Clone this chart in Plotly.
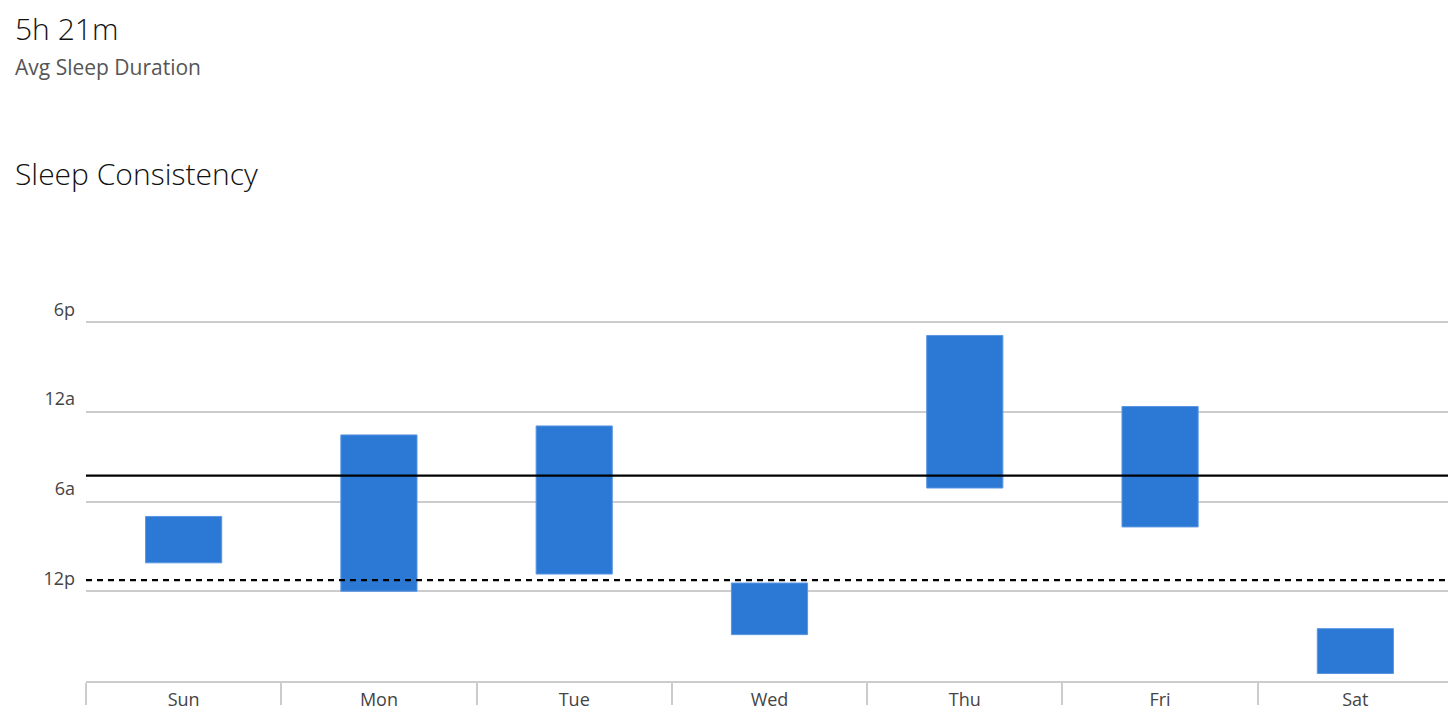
import plotly.graph_objects as go

# Data: sleep windows, expressed as hours after 6pm of the previous evening
days = ["Sun", "Mon", "Tue", "Wed", "Thu", "Fri", "Sat"]
bedtime_h = [13.0, 7.55, 6.95, 17.45, 0.9, 5.65, 20.5]
wake_h = [16.1, 18.0, 16.85, 20.9, 11.1, 13.7, 23.5]
avg_bedtime_h = 10.27
avg_wake_h = 17.25

y_tickvals = [0, 6, 12, 18]
y_ticktext = ["6p", "12a", "6a", "12p"]

headline = "5h 21m"
subhead = "Avg Sleep Duration"
chart_title = "Sleep Consistency"

duration = [w - b for b, w in zip(bedtime_h, wake_h)]

FONT = "Open Sans"
# the page body adds an 8px offset, so the figure is sized to fit the window
W, H = 1448, 712
ML, MR, MT, MB = 78, 3, 311, 39
PW, PH = W - ML - MR, H - MT - MB


def px_x(x):
    return (x - ML) / PW


def px_y(y):
    return (H - MB - y) / PH


fig = go.Figure()
fig.add_trace(go.Bar(
    x=days, y=duration, base=bedtime_h,
    width=0.39,
    marker=dict(color="#2C78D5", line=dict(color="#5A97E2", width=1)),
    hoverinfo="skip", showlegend=False,
))

fig.add_shape(type="line", xref="paper", yref="y", x0=0, x1=1,
              y0=avg_bedtime_h, y1=avg_bedtime_h,
              line=dict(color="#000000", width=2.2), layer="above")
fig.add_shape(type="line", xref="paper", yref="y", x0=0, x1=1,
              y0=avg_wake_h, y1=avg_wake_h,
              line=dict(color="#000000", width=2.2, dash="6px,5px"), layer="above")

fig.add_annotation(text=headline, xref="paper", yref="paper",
                   x=px_x(5), y=px_y(20), xanchor="left", yanchor="middle",
                   showarrow=False,
                   font=dict(family=FONT, size=30, color="#111111", weight=300))
fig.add_annotation(text=subhead, xref="paper", yref="paper",
                   x=px_x(5), y=px_y(59), xanchor="left", yanchor="middle",
                   showarrow=False,
                   font=dict(family=FONT, size=21, color="#555555"))
fig.add_annotation(text=chart_title, xref="paper", yref="paper",
                   x=px_x(5), y=px_y(165), xanchor="left", yanchor="middle",
                   showarrow=False,
                   font=dict(family=FONT, size=30, color="#111111", weight=300))

fig.update_layout(
    width=W, height=H,
    margin=dict(l=ML, r=MR, t=MT, b=MB, pad=0),
    paper_bgcolor="white", plot_bgcolor="white",
    font=dict(family=FONT, size=18, color="#444444"),
    bargap=0.6,
)
fig.update_xaxes(
    type="category", range=[-0.5, 6.5],
    showgrid=False, showline=True, linecolor="#CCCCCC", linewidth=1.5,
    ticks="outside", tickson="boundaries", ticklen=22, tickcolor="#CCCCCC",
    tickwidth=1.5, ticklabelstandoff=2,
    tickfont=dict(family=FONT, size=18, color="#444444"),
    zeroline=False, fixedrange=True,
)
fig.update_yaxes(
    range=[24, -0.2], tickvals=y_tickvals, ticktext=y_ticktext,
    showgrid=True, gridcolor="#CCCCCC", gridwidth=1.5,
    showline=False, zeroline=False, ticks="",
    ticklabelposition="outside top", ticklabelstandoff=10,
    tickfont=dict(family=FONT, size=18, color="#444444"),
    fixedrange=True,
)

fig.write_html("out.html")
